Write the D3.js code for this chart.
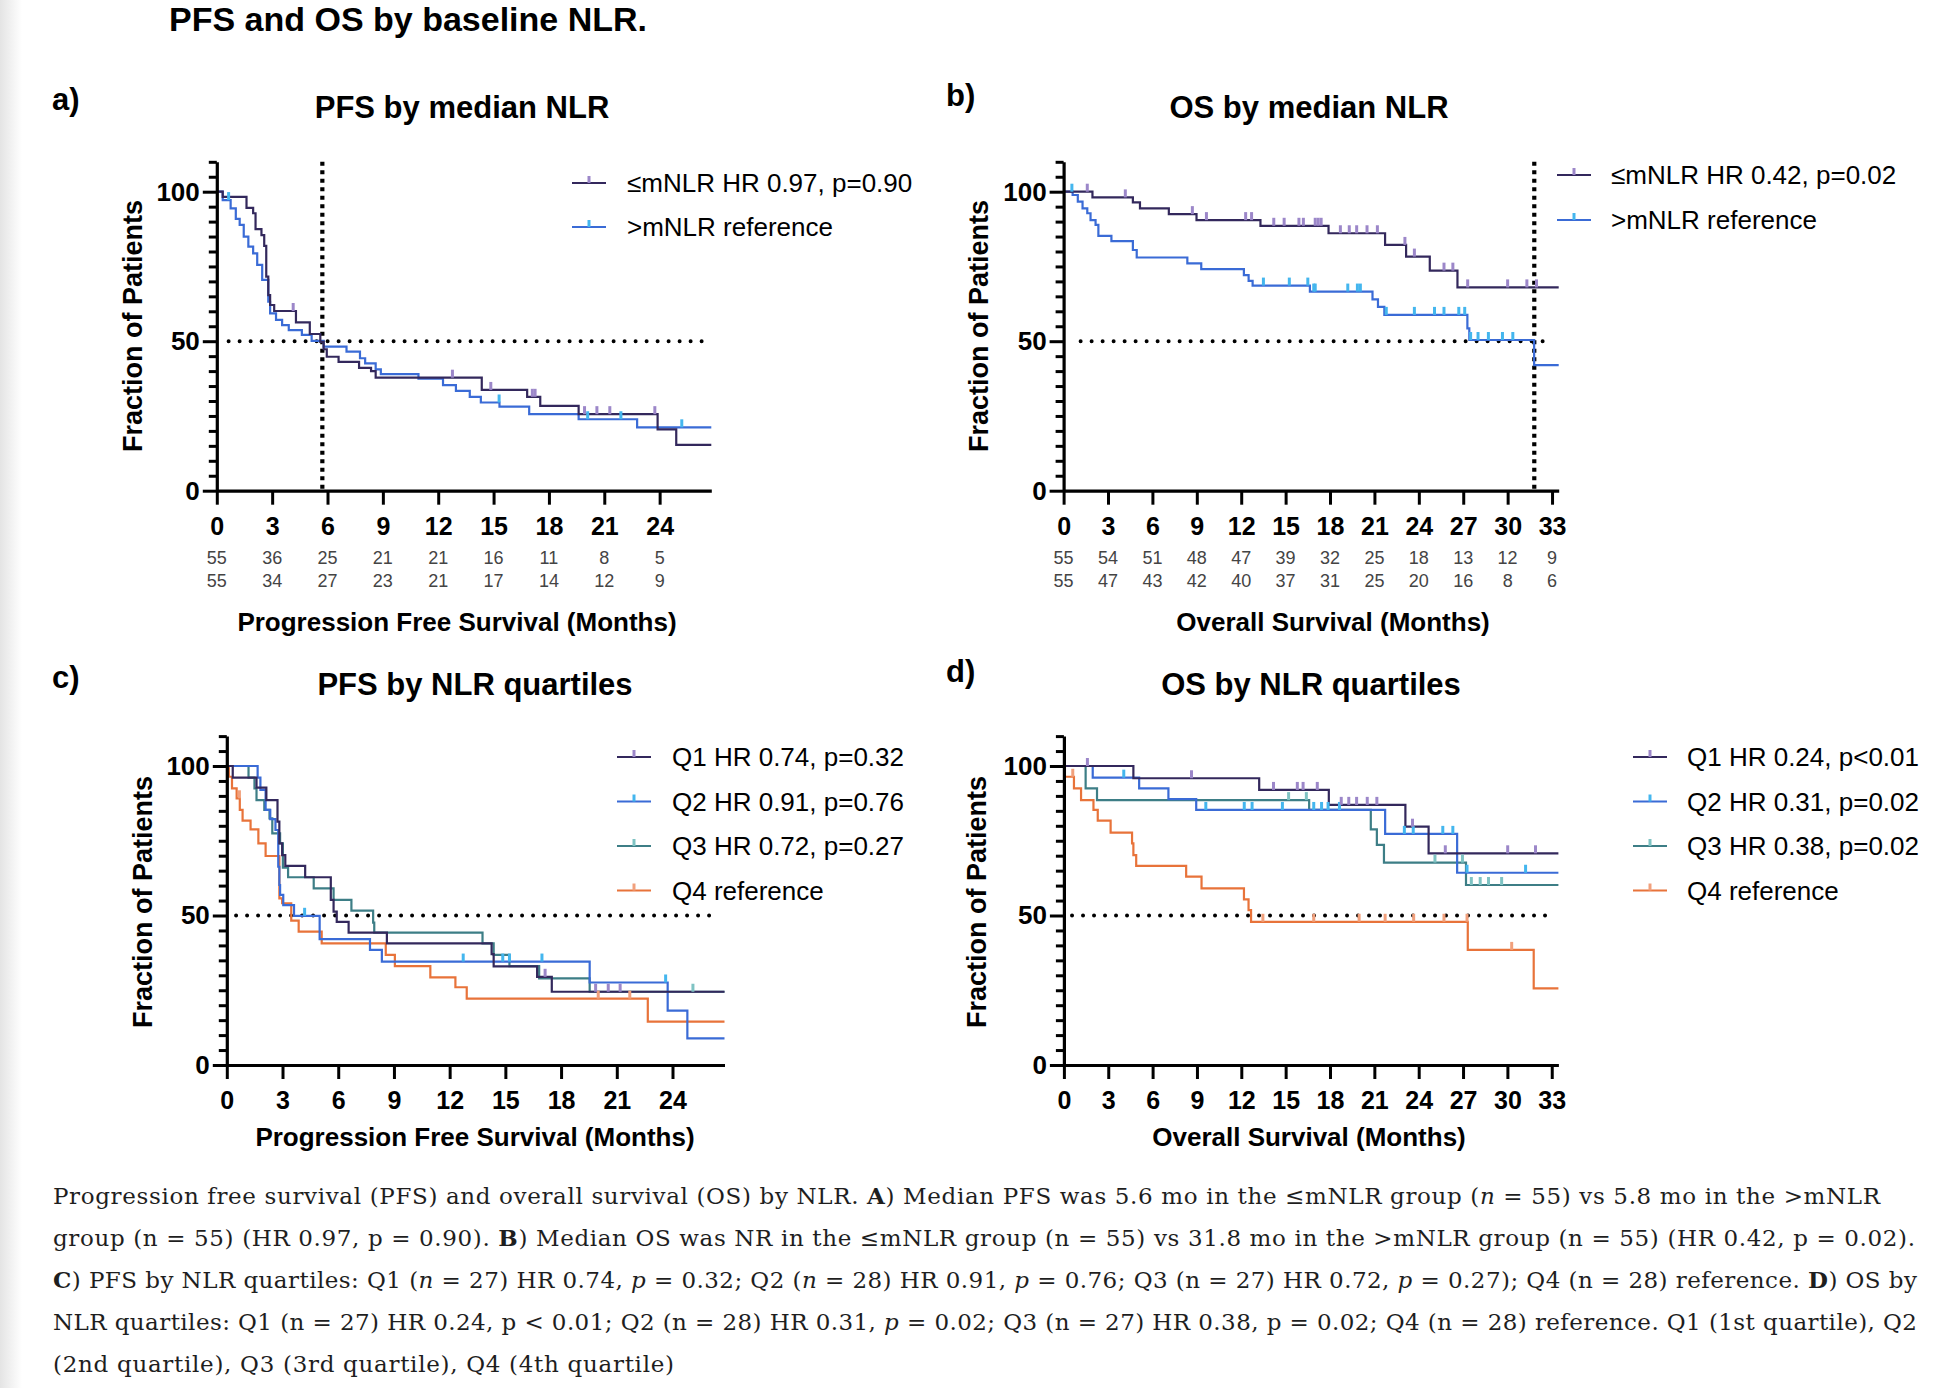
<!DOCTYPE html>
<html><head><meta charset="utf-8">
<script src="https://cdn.jsdelivr.net/npm/d3@7"></script>
<style>body{margin:0;background:#fff;} svg{display:block;}</style>
</head><body>
<svg id="chart" width="1940" height="1388"></svg>
<script>
// ---------------- DATA ----------------
const pfsTicks = [0,3,6,9,12,15,18,21,24];
const osTicks  = [0,3,6,9,12,15,18,21,24,27,30,33];
const yMajor = [0,50,100];

const pfsRiskLow  = [55,36,25,21,21,16,11,8,5];
const pfsRiskHigh = [55,34,27,23,21,17,14,12,9];
const osRiskLow   = [55,54,51,48,47,39,32,25,18,13,12,9];
const osRiskHigh  = [55,47,43,42,40,37,31,25,20,16,8,6];

// Panel a: PFS by median NLR
const pfsLowT = [0,0.32,1.61,1.97,2.10,2.42,2.57,2.68,2.79,2.89,3.11,4.29,5.04,5.61,5.79,5.96,6.60,7.71,8.36,8.61,14.36,16.82,17.53,19.61,23.89,24.90,26.8];
const pfsLowS = [100,98.3,94.6,92.8,87.5,85.5,81.9,71.6,65.4,62.1,60.1,56.3,52.4,49.8,47.3,44.8,43.1,41.1,40.0,37.8,33.7,31.4,28.4,25.6,20.5,15.3,15.3];
const pfsLowCens = [4.14,12.77,14.85,17.1,17.25,19.93,20.6,21.3,23.74];
const pfsHighT = [0,0.32,0.75,1.03,1.24,1.46,1.71,1.97,2.19,2.46,2.79,2.89,3.21,3.54,3.90,4.61,5.14,5.79,7.03,7.76,8.04,8.61,8.89,10.93,12.26,12.96,13.71,14.31,15.32,16.93,19.61,22.78,26.8];
const pfsHighS = [100,97.2,94.4,90.9,88.9,85.0,81.6,79.4,75.5,70.5,63.2,59.3,57.1,55.4,53.7,52.1,50.1,48.2,46.5,44.3,42.6,40.6,39.0,37.5,35.3,33.4,31.4,29.5,28.1,25.6,23.9,21.2,21.2];
const pfsHighCens = [0.64,15.3,20.1,21.9,25.2];

// Panel b: OS by median NLR
const osLowT = [0,1.95,4.68,5.16,7.11,8.98,13.3,17.9,21.72,23.14,24.74,26.61,33.45];
const osLowS = [100,98.1,96.4,94.4,92.5,90.5,88.6,86.1,82.2,78.3,73.6,68.0,68.0];
const osLowCens = [1.6,4.17,8.7,9.65,12.3,12.7,14.2,14.9,15.9,16.2,17.0,17.2,17.4,18.7,19.3,19.8,20.5,21.2,23.06,23.7,25.7,26.3,27.3,30.0,31.3,31.95];
const osHighT = [0,0.61,0.96,1.28,1.6,1.82,2.16,2.35,3.23,4.68,4.94,8.36,9.3,12.18,12.5,12.77,16.64,20.87,21.24,21.67,27.28,27.41,31.79,33.45];
const osHighS = [100,98.9,96.7,94.4,92.8,90.5,88.9,85.2,83.5,80.5,78.0,76.0,74.1,72.1,70.2,68.6,66.6,64.0,61.5,58.8,54.3,50.4,42.0,42.0];
const osHighCens = [0.56,13.5,15.25,16.5,16.9,17.0,19.2,19.85,20.05,21.8,23.7,25.06,25.7,26.7,27.1,27.5,28.0,28.7,29.65,30.35];

// Panel c: PFS by NLR quartiles
const pfsQ1T = [0,0.32,1.60,2.13,2.73,2.83,2.98,3.15,4.22,5.60,5.75,5.92,6.56,8.62,14.26,14.37,16.71,17.50,26.8];
const pfsQ1S = [100,96.1,92.8,88.6,81.4,74.1,70.2,66.6,62.8,55.2,51.3,47.9,44.3,40.7,37.1,33.0,29.5,24.5,24.5];
const pfsQ1Cens = [17.14,19.86,20.54,21.18];
const pfsQ2T = [0,1.66,1.81,2.09,2.34,2.62,2.77,2.83,2.87,3.04,3.62,5.00,7.71,8.35,19.54,23.74,24.80,26.8];
const pfsQ2S = [100,96.1,92.0,85.3,82.2,78.6,66.3,60.2,56.9,53.5,49.9,42.1,38.5,34.6,27.6,18.2,8.9,8.9];
const pfsQ2Cens = [4.19,12.73,14.86,15.22,16.97,23.63];
const pfsQ3T = [0,1.17,1.49,1.60,2.02,2.30,2.45,2.87,3.02,3.30,4.68,5.75,6.71,7.88,7.94,13.77,14.37,15.22,16.82,19.54,26.8];
const pfsQ3S = [100,96.1,92.5,88.6,85.3,82.5,77.5,74.1,66.0,62.8,59.1,55.2,51.6,47.6,44.3,40.7,36.8,33.1,29.0,24.5,24.5];
const pfsQ3Cens = [25.1];
const pfsQ4T = [0,0.11,0.28,0.53,0.70,0.85,1.28,1.70,2.09,2.83,2.98,3.47,3.87,5.11,8.56,9.05,10.96,12.31,12.92,22.67,26.8];
const pfsQ4S = [100,96.4,92.5,89.2,85.3,81.7,78.8,74.1,69.9,55.7,54.1,48.3,44.6,40.7,36.8,33.1,29.3,26.0,22.2,14.5,14.5];
const pfsQ4Cens = [0.68,20.0,21.7];

// Panel d: OS by NLR quartiles
const osQ1T = [0,4.70,13.21,17.92,23.1,24.67,33.45];
const osQ1S = [100,95.9,92.0,87.0,79.7,70.8,70.8];
const osQ1Cens = [1.59,8.63,14.18,15.79,16.18,17.14,18.76,19.27,19.8,20.52,21.17,23.58,25.8,30.02,31.9];
const osQ2T = [0,1.95,5.09,7.07,8.95,21.73,26.6,33.45];
const osQ2S = [100,96.1,92.5,88.9,85.3,77.3,64.3,64.3];
const osQ2Cens = [4.05,9.6,12.2,12.73,14.78,16.9,17.43,17.87,18.64,23.03,23.63,25.63,26.31,27.27,31.23];
const osQ3T = [0,1.47,2.24,16.59,20.76,21.17,21.65,27.2,33.45];
const osQ3S = [100,92.5,88.6,85.3,78.8,73.6,67.7,60.2,60.2];
const osQ3Cens = [15.2,16.4,25.1,26.96,27.56,28.16,28.72,29.61];
const osQ4T = [0,0.07,0.68,1.16,2.0,2.29,3.16,4.61,4.70,4.89,8.27,9.31,12.18,12.49,12.66,27.32,31.78,33.45];
const osQ4S = [100,96.4,92.5,88.6,85.3,81.7,77.7,74.1,70.2,66.6,63.0,59.1,55.4,51.8,47.9,38.5,25.6,25.6];
const osQ4Cens = [0.6,13.46,16.9,19.97,21.73,23.66,25.71,27.27,30.29];

const legendA = ["\u2264mNLR HR 0.97, p=0.90", ">mNLR reference"];
const legendB = ["\u2264mNLR HR 0.42, p=0.02", ">mNLR reference"];
const legendC = ["Q1 HR 0.74, p=0.32", "Q2 HR 0.91, p=0.76", "Q3 HR 0.72, p=0.27", "Q4 reference"];
const legendD = ["Q1 HR 0.24, p<0.01", "Q2 HR 0.31, p=0.02", "Q3 HR 0.38, p=0.02", "Q4 reference"];

// ---------------- STYLE ----------------
const SANS = "'Liberation Sans', Arial, Helvetica, sans-serif";
const COL = {
  q1:"#33285c", q1c:"#9c87c9",
  q2:"#3a6bd6", q2c:"#44b6ee",
  q3:"#3d7e86", q3c:"#7fc3c3",
  q4:"#e8733a", q4c:"#f1a07c"
};

const svg = d3.select("#chart");
const defs = svg.append("defs");
const grad = defs.append("linearGradient").attr("id","edge").attr("x1",0).attr("x2",1).attr("y1",0).attr("y2",0);
grad.append("stop").attr("offset",0).attr("stop-color","#e4e4e4");
grad.append("stop").attr("offset",1).attr("stop-color","#ffffff");
svg.append("rect").attr("width",1940).attr("height",1388).attr("fill","#fff");
svg.append("rect").attr("width",22).attr("height",1388).attr("fill","url(#edge)");

function valueAt(T,S,t){ const i = d3.bisectRight(T,t)-1; return S[Math.max(0,i)]; }

function panel(cfg){
  const x = d3.scaleLinear().domain([0,cfg.xMax]).range([cfg.x0,cfg.x1]);
  const y = d3.scaleLinear().domain([0,110]).range([cfg.y0, cfg.y0 - 110*2.99]);
  const g = svg.append("g");

  // reference dotted lines
  g.append("line").attr("x1",x(cfg.hFrom)).attr("x2",x(cfg.hTo)).attr("y1",y(50)).attr("y2",y(50))
    .attr("stroke","#000").attr("stroke-width",4).attr("stroke-linecap","round").attr("stroke-dasharray","0 11");
  if (cfg.vAt != null){
    g.append("line").attr("x1",x(cfg.vAt)).attr("x2",x(cfg.vAt)).attr("y1",y(110)).attr("y2",y(0))
      .attr("stroke","#000").attr("stroke-width",4.2).attr("stroke-dasharray","4 4.5");
  }

  const line = d3.line().x(d=>x(d[0])).y(d=>y(d[1])).curve(d3.curveStepAfter);
  cfg.series.slice().reverse().forEach(s=>{
    g.append("path").datum(s.T.map((t,i)=>[t,s.S[i]])).attr("d",line)
      .attr("fill","none").attr("stroke",s.color).attr("stroke-width",2.2);
  });
  cfg.series.slice().reverse().forEach(s=>{
    g.selectAll(null).data(s.C).join("line")
      .attr("x1",d=>x(d)).attr("x2",d=>x(d))
      .attr("y1",d=>y(valueAt(s.T,s.S,d))).attr("y2",d=>y(valueAt(s.T,s.S,d))-8)
      .attr("stroke",s.cColor).attr("stroke-width",3);
  });

  // axes
  const xa = g.append("g").attr("transform",`translate(0,${cfg.y0})`)
    .call(d3.axisBottom(x).tickValues(cfg.ticks).tickSize(14).tickSizeOuter(0).tickFormat(d3.format("d")));
  xa.select(".domain").attr("stroke","#000").attr("stroke-width",3.2);
  xa.selectAll(".tick line").attr("stroke","#000").attr("stroke-width",3);
  xa.selectAll(".tick text").attr("y",44).attr("dy",0).attr("fill","#000")
    .style("font-family",SANS).style("font-weight","bold").style("font-size","25px");

  const yaMinor = g.append("g").attr("transform",`translate(${cfg.x0},0)`)
    .call(d3.axisLeft(y).tickValues(d3.range(5,115,5).filter(v=>v%50!==0)).tickSize(8).tickSizeOuter(0).tickFormat(""));
  yaMinor.select(".domain").remove();
  yaMinor.selectAll(".tick line").attr("stroke","#000").attr("stroke-width",3);
  const ya = g.append("g").attr("transform",`translate(${cfg.x0},0)`)
    .call(d3.axisLeft(y).tickValues(yMajor).tickSize(14).tickPadding(3).tickSizeOuter(0));
  ya.select(".domain").attr("stroke","#000").attr("stroke-width",3.2);
  ya.selectAll(".tick line").attr("stroke","#000").attr("stroke-width",3);
  ya.selectAll(".tick text").attr("fill","#000")
    .style("font-family",SANS).style("font-weight","bold").style("font-size","26px");

  // number at risk
  if (cfg.risk){
    cfg.risk.forEach((row,ri)=>{
      g.selectAll(null).data(row).join("text")
        .attr("x",(d,i)=>x(cfg.ticks[i])).attr("y",cfg.y0+73+ri*23)
        .attr("text-anchor","middle").attr("fill","#444")
        .style("font-family",SANS).style("font-size","18px").text(d=>d);
    });
  }

  // titles
  g.append("text").attr("x",cfg.titleX).attr("y",cfg.titleY).attr("text-anchor","middle")
    .style("font-family",SANS).style("font-weight","bold").style("font-size","31px").text(cfg.title);
  g.append("text").attr("x",cfg.letterX).attr("y",cfg.letterY)
    .style("font-family",SANS).style("font-weight","bold").style("font-size","31px").text(cfg.letter);
  g.append("text").attr("x",cfg.xTitleX).attr("y",cfg.xTitleY).attr("text-anchor","middle")
    .style("font-family",SANS).style("font-weight","bold").style("font-size","26px").text(cfg.xTitle);
  g.append("text").attr("transform",`translate(${cfg.yLabelX},${cfg.yLabelY}) rotate(-90)`)
    .attr("text-anchor","middle").attr("dominant-baseline","central")
    .style("font-family",SANS).style("font-weight","bold").style("font-size","27px").text("Fraction of Patients");

  // legend
  cfg.series.forEach((s,i)=>{
    const ly = cfg.legY[i];
    g.append("line").attr("x1",cfg.legX).attr("x2",cfg.legX+34).attr("y1",ly).attr("y2",ly)
      .attr("stroke",s.color).attr("stroke-width",2.2);
    g.append("line").attr("x1",cfg.legX+17).attr("x2",cfg.legX+17).attr("y1",ly).attr("y2",ly-7)
      .attr("stroke",s.cColor).attr("stroke-width",3);
    g.append("text").attr("x",cfg.legTextX).attr("y",ly+9)
      .style("font-family",SANS).style("font-size","26px").text(cfg.legend[i]);
  });
}

panel({
  x0:216.8, x1:711.3, xMax:26.8, y0:490.7, ticks:pfsTicks, hFrom:0.64, hTo:26.3, vAt:5.72,
  series:[
    {T:pfsLowT,S:pfsLowS,C:pfsLowCens,color:COL.q1,cColor:COL.q1c},
    {T:pfsHighT,S:pfsHighS,C:pfsHighCens,color:COL.q2,cColor:COL.q2c}
  ],
  risk:[pfsRiskLow,pfsRiskHigh],
  title:"PFS by median NLR", titleX:462, titleY:118, letter:"a)", letterX:52, letterY:110,
  xTitle:"Progression Free Survival (Months)", xTitleX:457, xTitleY:631,
  yLabelX:133, yLabelY:326,
  legX:572, legY:[183,227], legTextX:627, legend:legendA
});
panel({
  x0:1063.6, x1:1558.7, xMax:33.45, y0:490.7, ticks:osTicks, hFrom:1.15, hTo:32.9, vAt:31.8,
  series:[
    {T:osLowT,S:osLowS,C:osLowCens,color:COL.q1,cColor:COL.q1c},
    {T:osHighT,S:osHighS,C:osHighCens,color:COL.q2,cColor:COL.q2c}
  ],
  risk:[osRiskLow,osRiskHigh],
  title:"OS by median NLR", titleX:1309, titleY:118, letter:"b)", letterX:946, letterY:106,
  xTitle:"Overall Survival (Months)", xTitleX:1333, xTitleY:631,
  yLabelX:979, yLabelY:326,
  legX:1557, legY:[175,220], legTextX:1611, legend:legendB
});
panel({
  x0:226.8, x1:724.5, xMax:26.8, y0:1065, ticks:pfsTicks, hFrom:0.5, hTo:26.2, vAt:null,
  series:[
    {T:pfsQ1T,S:pfsQ1S,C:pfsQ1Cens,color:COL.q1,cColor:COL.q1c},
    {T:pfsQ2T,S:pfsQ2S,C:pfsQ2Cens,color:COL.q2,cColor:COL.q2c},
    {T:pfsQ3T,S:pfsQ3S,C:pfsQ3Cens,color:COL.q3,cColor:COL.q3c},
    {T:pfsQ4T,S:pfsQ4S,C:pfsQ4Cens,color:COL.q4,cColor:COL.q4c}
  ],
  risk:null,
  title:"PFS by NLR quartiles", titleX:475, titleY:695, letter:"c)", letterX:52, letterY:688,
  xTitle:"Progression Free Survival (Months)", xTitleX:475, xTitleY:1146,
  yLabelX:143, yLabelY:902,
  legX:617, legY:[757,801.5,846,890.5], legTextX:672, legend:legendC
});
panel({
  x0:1063.9, x1:1558.4, xMax:33.45, y0:1065, ticks:osTicks, hFrom:0.55, hTo:32.8, vAt:null,
  series:[
    {T:osQ1T,S:osQ1S,C:osQ1Cens,color:COL.q1,cColor:COL.q1c},
    {T:osQ2T,S:osQ2S,C:osQ2Cens,color:COL.q2,cColor:COL.q2c},
    {T:osQ3T,S:osQ3S,C:osQ3Cens,color:COL.q3,cColor:COL.q3c},
    {T:osQ4T,S:osQ4S,C:osQ4Cens,color:COL.q4,cColor:COL.q4c}
  ],
  risk:null,
  title:"OS by NLR quartiles", titleX:1311, titleY:695, letter:"d)", letterX:946, letterY:682,
  xTitle:"Overall Survival (Months)", xTitleX:1309, xTitleY:1146,
  yLabelX:977, yLabelY:902,
  legX:1633, legY:[757,801.5,846,890.5], legTextX:1687, legend:legendD
});

// main title
svg.append("text").attr("x",169).attr("y",31)
  .style("font-family",SANS).style("font-weight","bold").style("font-size","34px")
  .text("PFS and OS by baseline NLR.");

// caption
const SERIF = "'DejaVu Serif', 'Liberation Serif', serif";
const caption = [
  {w:1827, parts:[["Progression free survival (PFS) and overall survival (OS) by NLR. ",""],["A","b"],[") Median PFS was 5.6 mo in the \u2264mNLR group (",""],["n","i"],[" = 55) vs 5.8 mo in the >mNLR",""]]},
  {w:1862, parts:[["group (n = 55) (HR 0.97, p = 0.90). ",""],["B","b"],[") Median OS was NR in the \u2264mNLR group (n = 55) vs 31.8 mo in the >mNLR group (n = 55) (HR 0.42, p = 0.02).",""]]},
  {w:1864, parts:[["C","b"],[") PFS by NLR quartiles: Q1 (",""],["n","i"],[" = 27) HR 0.74, ",""],["p","i"],[" = 0.32; Q2 (",""],["n","i"],[" = 28) HR 0.91, ",""],["p","i"],[" = 0.76; Q3 (n = 27) HR 0.72, ",""],["p","i"],[" = 0.27); Q4 (n = 28) reference. ",""],["D","b"],[") OS by",""]]},
  {w:1864, parts:[["NLR quartiles: Q1 (n = 27) HR 0.24, p < 0.01; Q2 (n = 28) HR 0.31, ",""],["p","i"],[" = 0.02; Q3 (n = 27) HR 0.38, p = 0.02; Q4 (n = 28) reference. Q1 (1st quartile), Q2",""]]},
  {w:621, parts:[["(2nd quartile), Q3 (3rd quartile), Q4 (4th quartile)",""]]}
];
caption.forEach((ln,i)=>{
  const t = svg.append("text").attr("x",53).attr("y",1204+i*42)
    .attr("textLength",ln.w).attr("lengthAdjust","spacing")
    .attr("fill","#1e1e1e").style("font-family",SERIF).style("font-size","23px");
  ln.parts.forEach(p=>{
    const ts = t.append("tspan").text(p[0]);
    if (p[1]==="b") ts.style("font-weight","bold");
    if (p[1]==="i") ts.style("font-style","italic");
  });
});
</script>
</body></html>
